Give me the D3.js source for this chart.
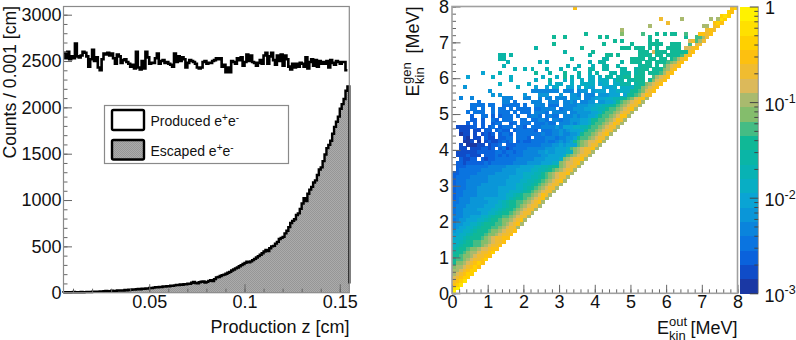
<!DOCTYPE html>
<html><head><meta charset="utf-8">
<script src="https://cdn.jsdelivr.net/npm/d3@7"></script>
<style>
html,body{margin:0;padding:0;background:#fff}
svg{display:block}
text{font-family:"Liberation Sans",Arial,sans-serif;fill:#111}
</style></head><body>
<svg id="c" width="796" height="340"></svg>
<script>
// left panel: bins of 0.001 cm from 0.005 to 0.155
const binStart = 0.005, binWidth = 0.001;
const produced = [
2590,2530,2600,2520,2550,2530,2690,2550,2540,2560,
2600,2590,2550,2440,2520,2620,2500,2540,2430,2400,
2520,2580,2570,2590,2560,2580,2530,2470,2570,2550,
2480,2510,2520,2490,2470,2440,2460,2420,2600,2430,
2410,2500,2420,2600,2540,2470,2480,2480,2530,2580,
2470,2500,2510,2480,2490,2470,2460,2440,2580,2490,
2550,2500,2540,2520,2430,2480,
2510,2500,2490,2470,2430,2420,2430,2490,2500,2470,
2480,2480,2500,2510,2530,2520,2530,2440,2460,2380,
2430,2380,2500,2490,2470,2530,2510,2540,2450,2490,
2570,2500,2560,2490,2480,2450,2480,2510,2470,2560,
2590,2470,2550,2590,2510,2460,2560,2500,2570,2450,
2560,2520,2440,2410,2470,2430,2470,2440,2480,2470,
2440,2540,2420,2490,2520,2450,2510,2440,2500,2470,
2490,2470,2500,2430,2510,2480,2460,2500,2490,2470,
2490,2490,2400];
const escaped = [
5,4,6,3,5,7,4,6,5,8,
5,6,9,7,8,11,9,10,12,13,
12,15,18,14,17,21,18,20,23,22,
25,24,29,27,32,30,34,33,37,41,
38,43,41,47,46,52,50,55,60,58,
63,61,68,66,71,70,76,74,79,84,
82,88,86,93,91,97,95,108,116,104,
101,112,118,121,109,117,128,136,125,146,
165,170,180,190,195,205,215,225,240,250,
262,272,285,298,310,322,335,328,338,352,
365,380,395,410,425,445,462,450,480,500,
505,530,548,580,592,602,640,668,708,752,
775,792,838,856,905,962,1020,990,1068,1112,
1142,1190,1212,1270,1330,1352,1420,1492,1560,1595,
1640,1715,1790,1845,1900,1985,2035,2090,2180,2225];
const escapedLineEnd = 100;
const countTicks = [0,500,1000,1500,2000,2500,3000];
const zTicks = [0.05,0.1,0.15];
const legendLabels = ["Produced e","Escaped e"];

// right panel: 80 rows of 0.1 MeV, last entry = row 0.
// Letters a..t are colour-band levels, numbers are runs of empty cells; text after | ends at the diagonal.
const heatRows = [
"34q|qr","|rq","|rsr","58p5n7n1n|sr","60p|qrq","55n14n|n.pq","47n|pqp","37k9m5l3k1k1kk2l|qqpq",
"28k2k9k1k11k9k|llnp","45k1k7k1k|.oplnp","28k13k7k4kkkk2kkk|l.op","23j12k10kkk1kkk1k1k2kkkk|oopq",
"31j7k12kkk1okkk1kkkk|kpq","13jj1j21j4kk1k5kkkk1kk1kk|kklpq","13jj18j8jj6kkkk1kk1kk|klnpq",
"15i8i1i11i2jj4j2kkk1kk1kkk|lmnpq","14i17i2i3i2jj2j5jkkk1k|lnopq","17i2i1i3i3i3i3jj2jj3jj2jkkk1kkk|kmnpq",
"8g4i9k3j3k3j2i1j3jj1jjj1jkk1kk|klnpq","4g6h4h8h3h1k1i1i2hh1h1jj1jjkk1kkk|lnopq",
"16h6h3j3h1h2h1hh1hhh1hjj1jjkkk1kkl|mopq","13h7h5h1hh2h2hhhh1ghh1hhjjj1jkkl|mnopq",
"3f14h4g2g1gh2gg1g1hgg2gggh1hhhhhjjj|kkmnopq","10f11eeeeeeee1eee1eff1fggg1gghhhhjj|kklmopq",
"11f1f6f3fff3f2ffe1eee1fffggg1gghhijj|kklmoqp","2e2e8eee3ee2e1ee1eee1fff1eefggghhiij|klmopqn",
"7d6ee1d4eee2eee1eefe1eeff1ffgghhiijjk|klmnopqn","5dddd1dd2ddddd1d2eee1ddd1eeeefffgghhiijkk|klmnoppn",
"5dd1d2d1dd1d1dddd1ddeeee1deeefffgghhiijk|kllmnopqn","4d1ddd2d1ddd1d1ddd1eeed1eeee1eeffffgghhijk|kllmnoppn",
"5c2dd1c1cddd1d2deed1dedd1eeefeffgghhiijk|kllmnoqqn","5cc1c2dc1ddd2dd1ddeed1eedeefffgghhhijk|kkllmnoqpn",
"4c1c1c2cdd2cd1ddd1dddedd1eeefefgghhhijk|kllmnoqpn","1bbbbcc1c1cd1cddd1ddc1dddeeeefeggghhiijk|kllmnoppn",
"2bbb1bb1cc1cdcc1cdddddc1dddeefefggghhiijk|kllmnoppn","2abb1b1bcbc1cddc1dddddddeddeefeeffgghhijk|kllmnopqn",
"3ba1bb1cbb1ccdd1dddc1dddeeedeeffgghhhiijk|kllmnoppn","3aab1a1bcbbcdcd1cdccddddeddefefggghhiijkk|klmnoopqn",
"2b1aaabb1bccd1cccdddddddeeeffgfggghhiijkk|lmnoppn","2bb1bbbccbc1cdbcddddeeeeefffggghhiijjkk|lmnoppqn",
"1bbbbbbcccccddcddcddeeeeffgffggghhiijkkl|mnoppn","1bbbcbbb1cccdcdcddddeeeeeffgggghhhiijkl|lmnoppn",
"2cbbcc1cbccddddddeeeeefffgggghhiijkkl|mnoppqn","1ccbcccccdcddddddeeeeffffggghhiijkkl|mnoopqn",
"1cccddddddeeeeeffffgggghhiijkkl|mnoppn","1cddddddeeeeeeffffgggghhiijkk|lmnoppn",
"ccdddddeeeeeffffffgghhhiijk|klmnoppqn","cddddeeeeeffffffgggghhiijk|klmnoppn",
"cdddeeeeeefffffgggghhiijk|klmnopqn","cdddeeeefffffffggghhiijk|klmnoppn",
"cdddeeeffffffggggghhijk|klmnoppn","cddeeeeffffffggghhhijk|klmnoppn",
"cddeeeeffffffgghhijk|kllmnoqpn","cdeeeffffgggggghijk|klmnopqn","ddeeefffffggghijk|kllmnopqn",
"deeefffffggghhijk|klmnoppn","deeffffgggghhijk|klmnoppn","deefffffgghhijk|klmnoppn",
"eeeffggghhijk|kllmnoppn","deffggghhijk|klmmnopqn","effgghhijk|kkllmnopqn",
"efgghhijk|kkllmnoppn","fgghhijk|kklmmnoppq","gghhijk|kklmmnoppq","ghhijk|kklmnoppqq",
"hhijk|kllmmnoppq","hijk|kkllmnoppq","ijk|klmmnoopqq","jk|klmnnoppqr","k|klmmnoppqq",
"|kllmnoppqr","|kmmnopqrq","|mnnopqrq","|nnopqrr","|nopqrr","|opqrr","|pqrs","|qrs","|st","|t"];
const bandColors = ["#1a38a4","#0f4cc8","#0a62dc","#0a74e0","#0a84dc","#0a96d8","#0aa4d4","#08aec4","#08b2b4","#0ab5a6",
"#10b896","#45bc84","#84bd6c","#a9ba6e","#dcb95a","#f0bc30","#fdc010","#ffd000","#ffe000","#fff200"];
const energyTicks = [0,1,2,3,4,5,6,7,8];
const decadeExponents = [-3,-2,-1,0];

const svg = d3.select("#c");
const FS = 18, AX = "#666", FR = "#8a8a8a";
const defs = svg.append("defs");
const pat = defs.append("pattern").attr("id","dots").attr("width",2).attr("height",2).attr("patternUnits","userSpaceOnUse");
pat.append("rect").attr("width",2).attr("height",2).attr("fill","#ababab");
pat.append("rect").attr("width",1).attr("height",1).attr("fill","#969696");
pat.append("rect").attr("x",1).attr("y",1).attr("width",1).attr("height",1).attr("fill","#969696");

function styleAxis(g){
  g.select(".domain").remove();
  g.selectAll("line").attr("stroke",AX).attr("stroke-width",1);
}
function range(a,b,s){const o=[];for(let i=0;Math.round((a+i*s)*1e6)/1e6<=b;i++)o.push(Math.round((a+i*s)*1e6)/1e6);return o;}
const labelStyle = g=>g.selectAll("text").attr("font-size",FS).attr("fill","#111").attr("font-family",'"Liberation Sans"');

/* ---------- left panel ---------- */
const x1 = d3.scaleLinear().domain([binStart,0.155]).range([63.5,349.3]);
const y1 = d3.scaleLinear().domain([0,3000]).range([292.7,14.7]);
const stepPts = vals => { const p=[]; vals.forEach((v,i)=>{p.push([binStart+i*binWidth,v]);p.push([binStart+(i+1)*binWidth,v]);}); return p; };
const area1 = d3.area().x(d=>x1(d[0])).y0(y1(0)).y1(d=>y1(d[1]));
const line1 = d3.line().x(d=>x1(d[0])).y(d=>y1(d[1]));
svg.append("path").datum(stepPts(escaped)).attr("d",area1).attr("fill","url(#dots)");
svg.append("path").datum([[binStart,0],...stepPts(escaped),[0.155,escapedLineEnd]]).attr("d",line1).attr("fill","none").attr("stroke","#000").attr("stroke-width",2.4);
svg.append("path").datum(stepPts(produced)).attr("d",line1).attr("fill","none").attr("stroke","#000").attr("stroke-width",2.6);

svg.append("g").attr("transform","translate(63.5,0)").call(d3.axisLeft(y1).tickValues(range(0,3000,100)).tickSize(-4).tickFormat("")).call(styleAxis);
svg.append("g").attr("transform","translate(63.5,0)").call(d3.axisLeft(y1).tickValues(countTicks).tickSize(-8.5).tickPadding(2).tickFormat(d3.format("d"))).call(styleAxis).call(labelStyle);
svg.append("g").attr("transform","translate(0,292.7)").call(d3.axisBottom(x1).tickValues(range(0.01,0.15,0.01)).tickSize(-4).tickFormat("")).call(styleAxis);
svg.append("g").attr("transform","translate(0,292.7)").call(d3.axisBottom(x1).tickValues(zTicks).tickSize(-8.5).tickPadding(3).tickFormat(d=>String(d))).call(styleAxis).call(labelStyle);
svg.append("rect").attr("x",63.5).attr("y",6.5).attr("width",285.8).attr("height",286.2).attr("fill","none").attr("stroke",FR).attr("stroke-width",1.2);

svg.append("text").attr("transform","translate(15.6,6) rotate(-90)").attr("text-anchor","end").attr("font-size",17.6).text("Counts / 0.001 [cm]");
svg.append("text").attr("x",349.5).attr("y",333).attr("text-anchor","end").attr("font-size",FS).text("Production z [cm]");

// legend
svg.append("rect").attr("x",104.5).attr("y",105.5).attr("width",184).attr("height",58).attr("fill","#fff").attr("stroke",FR).attr("stroke-width",1.2);
[[110,130,"#fff"],[140,159.5,"url(#dots)"]].forEach((s,i)=>{
  svg.append("rect").attr("x",112).attr("y",s[0]).attr("width",32).attr("height",s[1]-s[0]).attr("rx",1.5).attr("fill",s[2]).attr("stroke","#000").attr("stroke-width",2.4);
  const t = svg.append("text").attr("x",150.5).attr("y",i?155.5:125.5).attr("font-size",14);
  t.append("tspan").text(legendLabels[i]);
  t.append("tspan").attr("dy",-5).attr("font-size",10).text("+");
  t.append("tspan").attr("dy",5).text("e");
  t.append("tspan").attr("dy",-5).attr("font-size",10).text("-");
});

/* ---------- right panel ---------- */
const x2 = d3.scaleLinear().domain([0,8]).range([452,737.5]);
const y2 = d3.scaleLinear().domain([0,8]).range([293.3,6.5]);
const cz = d3.scaleLinear().domain([-3,0]).range([293.3,6.5]);
const colorOf = d3.scaleQuantize().domain([-3,0]).range(bandColors);
const letters = "abcdefghijklmnopqrst";
const levelToLog = l => -3 + (l+0.5)*0.15;
const cells = {};
heatRows.forEach((row,idx)=>{
  const r = 79-idx, parts = row.split("|");
  let c = 0;
  (parts[0].match(/\d+|[a-t]/g)||[]).forEach(tok=>{
    if(/\d/.test(tok)) c += +tok;
    else { if(c<=r) cells[r*100+c] = {r,c,v:levelToLog(letters.indexOf(tok))}; c++; }
  });
  const tail = parts[1]||"";
  [...tail].forEach((ch,i)=>{
    const col = r-(tail.length-1-i);
    if(col<0) return;
    if(ch!==".") cells[r*100+col] = {r,c:col,v:levelToLog(letters.indexOf(ch))};
    else delete cells[r*100+col];
  });
});
svg.append("g").attr("shape-rendering","crispEdges").selectAll("rect").data(Object.values(cells)).join("rect")
  .attr("x",d=>x2(d.c/10)).attr("y",d=>y2((d.r+1)/10))
  .attr("width",x2(0.1)-x2(0)+0.4).attr("height",y2(0)-y2(0.1)+0.4)
  .attr("fill",d=>colorOf(d.v));

const minorE = range(0,8,0.2);
svg.append("g").attr("transform","translate(452,0)").call(d3.axisLeft(y2).tickValues(minorE).tickSize(-4).tickFormat("")).call(styleAxis);
svg.append("g").attr("transform","translate(452,0)").call(d3.axisLeft(y2).tickValues(energyTicks).tickSize(-8.5).tickPadding(3).tickFormat(d3.format("d"))).call(styleAxis).call(labelStyle);
svg.append("g").attr("transform","translate(0,293.3)").call(d3.axisBottom(x2).tickValues(minorE).tickSize(-4).tickFormat("")).call(styleAxis);
svg.append("g").attr("transform","translate(0,293.3)").call(d3.axisBottom(x2).tickValues(energyTicks).tickSize(-8.5).tickPadding(2).tickFormat(d3.format("d"))).call(styleAxis).call(labelStyle);
svg.append("rect").attr("x",452).attr("y",6.5).attr("width",285.5).attr("height",286.8).attr("fill","none").attr("stroke","#a0a0a0").attr("stroke-width",1.6);

// colour bar
svg.append("g").attr("shape-rendering","crispEdges").selectAll("rect").data(bandColors).join("rect")
  .attr("x",740).attr("width",18.3)
  .attr("y",d=>cz(colorOf.invertExtent(d)[1])).attr("height",d=>{const e=colorOf.invertExtent(d);return cz(e[0])-cz(e[1])+0.5;})
  .attr("fill",d=>d);
const minorLog = decadeExponents.slice(0,3).flatMap(e=>[2,3,4,5,6,7,8,9].map(m=>e+Math.log10(m)));
svg.append("g").attr("transform","translate(758.3,0)").call(d3.axisRight(cz).tickValues(minorLog).tickSize(-4).tickFormat("")).call(styleAxis).call(g=>g.selectAll("line").attr("stroke","#444"));
svg.append("g").attr("transform","translate(758.3,0)").call(d3.axisRight(cz).tickValues(decadeExponents).tickSize(-8.5).tickFormat("")).call(styleAxis).call(g=>g.selectAll("line").attr("stroke","#444"));
svg.append("line").attr("x1",758.3).attr("x2",758.3).attr("y1",6.5).attr("y2",293.3).attr("stroke","#777").attr("stroke-width",0.8);
decadeExponents.forEach(e=>{
  if(e===0){ svg.append("text").attr("x",765).attr("y",14).attr("font-size",FS).text("1"); return; }
  const t = svg.append("text").attr("x",764.5).attr("y",cz(e)+8.5).attr("font-size",FS);
  t.append("tspan").text("10");
  t.append("tspan").attr("dy",-7.5).attr("font-size",12.5).text("-"+(-e));
});

// axis titles: same layout along the x axis and, rotated, along the y axis
function energyTitle(g,sup,eAt,subAt){
  g.append("text").attr("x",eAt).attr("font-size",FS).text("E");
  g.append("text").attr("x",subAt).attr("y",-8).attr("font-size",13).text(sup);
  g.append("text").attr("x",subAt).attr("y",5.5).attr("font-size",13).text("kin");
  g.append("text").attr("x",0).attr("text-anchor","end").attr("font-size",FS).text("[MeV]");
}
energyTitle(svg.append("g").attr("transform","translate(418.5,6.5) rotate(-90)"),"gen",-90,-77.5);
energyTitle(svg.append("g").attr("transform","translate(737.5,334)"),"out",-80.5,-68.5);
</script>
</body></html>
